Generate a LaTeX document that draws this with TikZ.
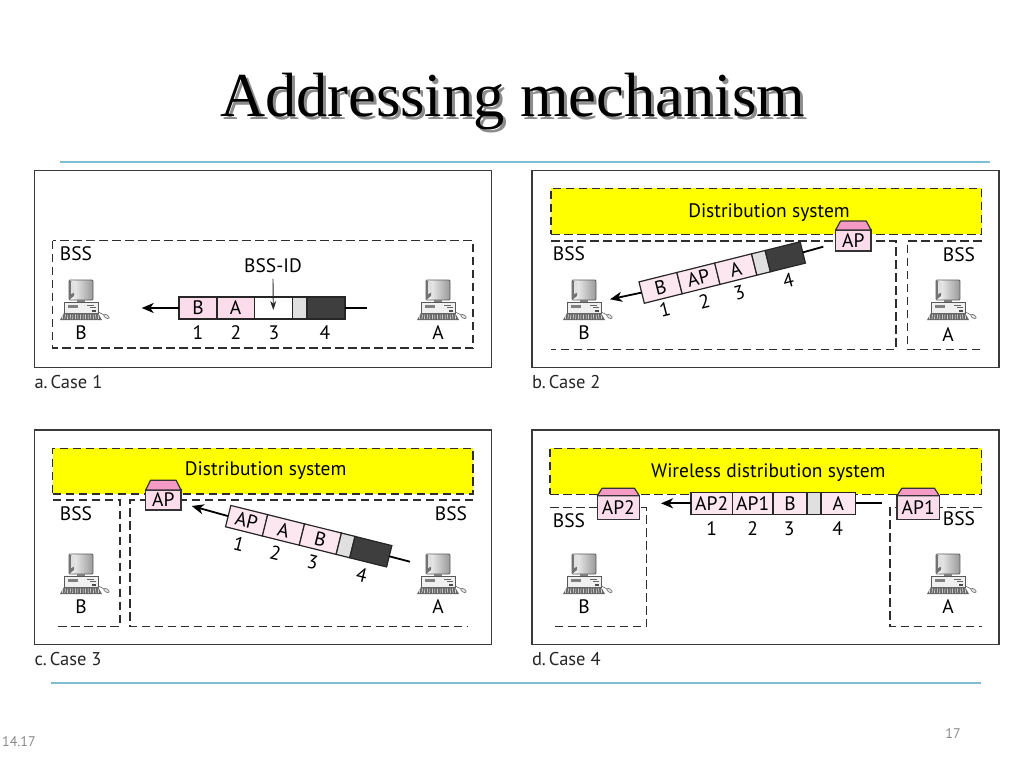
\documentclass[tikz,border=0pt]{standalone}
\usepackage{fontspec}
\setmainfont{Liberation Serif}
\newfontfamily\figfont{PT Sans}
\usetikzlibrary{arrows.meta,calc}
\definecolor{rulecol}{HTML}{7FBDD0}
\definecolor{framecol}{HTML}{3A3A3A}
\definecolor{dashcol}{HTML}{2E2E2E}
\definecolor{cellpink}{HTML}{FADCEB}
\definecolor{cellpale}{HTML}{FCE6F0}
\definecolor{roofpink}{HTML}{F59AC4}
\definecolor{cellgray}{HTML}{E0E0E0}
\definecolor{celldark}{HTML}{3E3E3E}
\definecolor{dsyellow}{HTML}{FFFF00}
\definecolor{footgray}{HTML}{8A8A8A}
\tikzset{
  panel/.style={draw=framecol,line width=1.6pt,fill=white},
  bssline/.style={draw=dashcol,line width=1.3pt,dash pattern=on 8.5pt off 4.5pt},
  dsbox/.style={draw=dashcol,line width=1.3pt,dash pattern=on 8.5pt off 4.5pt,fill=dsyellow},
  fig/.style={font=\figfont\fontsize{19.5}{22}\selectfont,text=black,inner sep=0pt,outer sep=0pt,text height=13.5pt,text depth=0pt},
  captext/.style={font=\figfont\fontsize{18.5}{22}\selectfont,text=black!85,inner sep=0pt,outer sep=0pt,anchor=base west},
  cellbox/.style={draw=black!85,line width=1.2pt,inner sep=0pt,outer sep=0pt,minimum height=22pt,anchor=west,font=\figfont\fontsize{19.5}{22}\selectfont,text height=13.5pt,text depth=0pt},
  pktline/.style={draw=black,line width=1.8pt},
  pktarrow/.style={draw=black,line width=1.8pt,-{Stealth[length=12pt,width=10pt,inset=3.5pt]}},
  apbox/.style={draw=black!80,line width=1.2pt,fill=cellpink,inner sep=0pt,outer sep=0pt,font=\figfont\fontsize{19.5}{22}\selectfont,text height=13.5pt,text depth=0pt},
  roof/.style={draw=black!80,line width=1.2pt,fill=roofpink,line join=round},
  rulel/.style={draw=rulecol,line width=1.1pt},
  pics/computer/.style={code={
    \shade[left color=white,right color=black!40,draw=black!65,line width=0.9pt,rounded corners=1pt] (-12,0) rectangle (12,20);
    \fill[black!55] (-12,0) -- (-7,3) -- (-7,16) -- (-12,20) -- cycle;
    \fill[black!12] (-10,1.5) -- (-6,3) -- (-6,12) -- (-10,14) -- cycle;
    \fill[black!50] (-4,20) rectangle (4,22);
    \draw[draw=black!65,line width=0.8pt,fill=black!6] (-17,22) rectangle (17,33);
    \fill[black!50] (-13,25) rectangle (-3,28);
    \fill[black!60] (6,25) rectangle (13,26.2);
    \fill[black!60] (9,27) rectangle (15,28.2);
    \fill[black!70] (11,30) rectangle (15,31.5);
    \fill[black!60] (-17,33) -- (17,33) -- (21,40) -- (-21,40) -- cycle;
    \foreach \k in {-18,-15.5,...,18.5} {\draw[white,line width=0.5pt] (\k,34.5) -- ({\k*1.04},39);}
    \draw[black!60,line width=0.6pt] (17,32) .. controls (20,33) and (21,34) .. (23,35);
    \draw[black!60,line width=0.6pt,fill=black!10,rotate around={-30:(25.5,36.5)}] (25.5,36.5) ellipse (3 and 1.6);
  }}
}
\newcommand{\cell}[6]{\node[cellbox,fill=#4,minimum width={(#3-#2)*1pt},#6] (#1) at (#2,0) {#5};}
\newcommand{\apnode}[7]{%
  \node[apbox,minimum width={(#3-#2)*1pt},minimum height={(#6-#5)*1pt}] (#1) at ({(#2+#3)/2},{(#5+#6)/2}) {#7};
  \draw[roof] (#1.north west) -- ([shift={(4.8,{#4-#5})}]#1.north west) -- ([shift={(-4.8,{#4-#5})}]#1.north east) -- (#1.north east) -- cycle;}
\begin{document}
\begin{tikzpicture}[x=1pt,y=-1pt]
\path[use as bounding box,fill=white] (0,0) rectangle (1024,768);
% title
\node[font=\fontsize{62.5}{70}\selectfont,text=black!45,anchor=base,inner sep=0] (titleshade) at (515.5,119) {Addressing mechanism};
\node[font=\fontsize{62.5}{70}\selectfont,text=black,anchor=base,inner sep=0] (title) at (512.5,116) {Addressing mechanism};
\coordinate (ruleAl) at (60,162); \coordinate (ruleAr) at (990,162);
\coordinate (ruleBl) at (51,683); \coordinate (ruleBr) at (981,683);
\draw[rulel] (ruleAl) -- (ruleAr);
\draw[rulel] (ruleBl) -- (ruleBr);
\node[font=\figfont\fontsize{14}{16}\selectfont,text=footgray,anchor=base west,inner sep=0] (pagea) at (2,746) {14.17};
\node[font=\figfont\fontsize{14}{16}\selectfont,text=footgray,anchor=base,inner sep=0] (pageb) at (953,738) {17};

% ---------- panel a
\draw[panel] (34.5,170.5) rectangle (491.5,367.5);
\draw[bssline] (52.5,240.5) rectangle (473,348);
\node[fig] (aBSS) at (76,254) {BSS};
\pic at (81,280) {computer};
\pic at (438,280) {computer};
\node[fig] (aB) at (81,333) {B};
\node[fig] (aA) at (438,333) {A};
\coordinate (aHead) at (141.7,308);
\coordinate (aTail) at (366.7,308);
\begin{scope}[shift={(179,308)}]
\cell{a1}{0}{38}{cellpink}{B}{}
\cell{a2}{38}{75.3}{cellpink}{A}{}
\cell{a3}{75.3}{113.3}{white}{}{}
\cell{a4}{113.3}{128}{cellgray}{}{}
\cell{a5}{128}{166}{celldark}{}{}
\end{scope}
\draw[pktarrow] (a1.west) -- (aHead);
\draw[pktline] (a5.east) -- (aTail);
\node[fig] (aID) at (273,266) {BSS-ID};
\draw[draw=black!85,line width=0.9pt,-{Stealth[length=9pt,width=6pt]}] (aID.south) ++(0,6) -- ([yshift=-2pt]a3.center);
\node[fig] (an1) at (198,333) {1};
\node[fig] (an2) at (236,333) {2};
\node[fig] (an3) at (274,333) {3};
\node[fig] (an4) at (325,333) {4};
\node[captext] (acap) at (34.5,388) {a.\,Case 1};

% ---------- panel b
\draw[panel] (532,170.5) rectangle (999,367.5);
\draw[bssline] (551,241) -- (896,241) -- (896,349.3) -- (551,349.3);
\draw[bssline] (981.7,241) -- (907.3,241) -- (907.3,349.3) -- (981.7,349.3);
\node[dsbox,minimum width=430.7pt,minimum height=46pt,inner sep=0pt,outer sep=0pt] (bDS) at (766.35,211.3) {};
\node[fig] (bDSt) at (769,211) {Distribution system};
\apnode{bAP}{835.7}{871}{221}{230}{251}{AP}
\node[fig] (bBSSl) at (569,254) {BSS};
\node[fig] (bBSSr) at (959,255) {BSS};
\pic at (584,280) {computer};
\pic at (948,280) {computer};
\node[fig] (bB) at (584,333) {B};
\node[fig] (bA) at (948,335) {A};
\coordinate (bHead) at (610,299.3);
\coordinate (bTail) at (823.3,246.7);
\begin{scope}[shift={(722.2,272.5)},rotate=14,nodes={transform shape}]
\cell{b1}{-83}{-44}{cellpale}{B}{}
\cell{b2}{-44}{-5}{cellpale}{AP}{}
\cell{b3}{-5}{33}{cellpale}{A}{}
\cell{b4}{33}{47}{cellgray}{}{}
\cell{b5}{47}{83}{celldark}{}{}
\end{scope}
\draw[pktarrow] (b1.west) -- (bHead);
\draw[pktline] (b5.east) -- (bTail);
\node[fig,rotate=14] (bn1) at (665,310) {1};
\node[fig,rotate=14] (bn2) at (704.3,301.7) {2};
\node[fig,rotate=14] (bn3) at (739.3,292.7) {3};
\node[fig,rotate=14] (bn4) at (788.3,280.7) {4};
\node[captext] (bcap) at (532,388) {b.\,Case 2};

% ---------- panel c
\draw[panel] (34.5,430) rectangle (491.5,644.3);
\draw[bssline] (52.5,500) -- (120,500) -- (120,626.3) -- (54,626.3);
\draw[bssline] (473,500) -- (130,500) -- (130,626.3) -- (468,626.3);
\node[dsbox,minimum width=420.5pt,minimum height=45.7pt,inner sep=0pt,outer sep=0pt] (cDS) at (262.75,471.15) {};
\node[fig] (cDSt) at (265.7,469) {Distribution system};
\apnode{cAP}{145.7}{181}{480.3}{490}{510}{AP}
\node[fig] (cBSSl) at (76,514) {BSS};
\node[fig] (cBSSr) at (451,514) {BSS};
\pic at (81,554) {computer};
\pic at (438,554) {computer};
\node[fig] (cB) at (81,607) {B};
\node[fig] (cA) at (438,607) {A};
\coordinate (cHead) at (191.7,506);
\coordinate (cTail) at (410,561.7);
\begin{scope}[shift={(308.7,536.2)},rotate=-14,nodes={transform shape}]
\cell{c1}{-83}{-45}{cellpale}{AP}{}
\cell{c2}{-45}{-7}{cellpale}{A}{}
\cell{c3}{-7}{31}{cellpale}{B}{}
\cell{c4}{31}{45}{cellgray}{}{}
\cell{c5}{45}{83}{celldark}{}{}
\end{scope}
\draw[pktarrow] (c1.west) -- (cHead);
\draw[pktline] (c5.east) -- (cTail);
\node[fig,rotate=-14] (cn1) at (239,544) {1};
\node[fig,rotate=-14] (cn2) at (275.3,553.3) {2};
\node[fig,rotate=-14] (cn3) at (312.7,562.7) {3};
\node[fig,rotate=-14] (cn4) at (361.7,575.7) {4};
\node[captext] (ccap) at (34.5,665) {c.\,Case 3};

% ---------- panel d
\draw[panel] (532,430) rectangle (999,644.3);
\draw[bssline] (550,507.7) -- (646.7,507.7) -- (646.7,626.3) -- (550,626.3);
\draw[bssline] (981.7,507.7) -- (890,507.7) -- (890,626.3) -- (981.7,626.3);
\node[dsbox,minimum width=431.7pt,minimum height=46pt,inner sep=0pt,outer sep=0pt] (dDS) at (765.85,471.3) {};
\node[fig] (dDSt) at (768.3,470.7) {Wireless distribution system};
\apnode{dAPb}{597.3}{639.3}{488.3}{495.7}{519.3}{AP2}
\apnode{dAPa}{897}{939.3}{488.3}{495.7}{519.3}{AP1}
\node[fig] (dBSSl) at (569,520.7) {BSS};
\node[fig] (dBSSr) at (959,519) {BSS};
\pic at (584,554) {computer};
\pic at (948,554) {computer};
\node[fig] (dB) at (584,607) {B};
\node[fig] (dA) at (948,607) {A};
\coordinate (dHead) at (661,503.3);
\coordinate (dTail) at (881.7,503.3);
\begin{scope}[shift={(691,503.3)}]
\cell{d1}{0}{41.3}{cellpale}{AP2}{}
\cell{d2}{41.3}{82}{cellpale}{AP1}{}
\cell{d3}{82}{116}{cellpale}{B}{}
\cell{d4}{116}{130}{cellgray}{}{}
\cell{d5}{130}{164.7}{cellpale}{A}{}
\end{scope}
\draw[pktarrow] (d1.west) -- (dHead);
\draw[pktline] (d5.east) -- (dTail);
\node[fig] (dn1) at (711.7,529) {1};
\node[fig] (dn2) at (752.7,529) {2};
\node[fig] (dn3) at (789.3,529) {3};
\node[fig] (dn4) at (837.7,529) {4};
\node[captext] (dcap) at (532,665) {d.\,Case 4};
\end{tikzpicture}
\end{document}
